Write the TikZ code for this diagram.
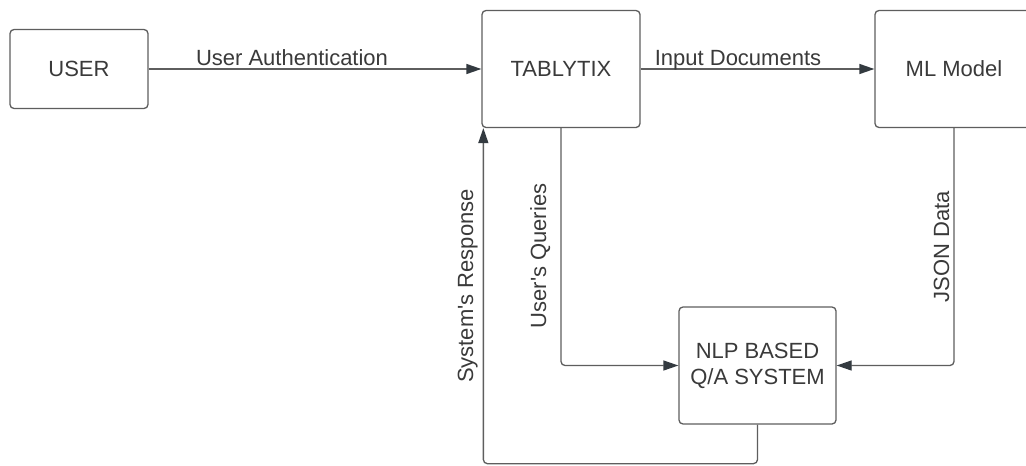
\documentclass[tikz,border=0pt]{standalone}
\usepackage{fontspec}
\setmainfont{Liberation Sans}
\usetikzlibrary{arrows.meta}
\definecolor{edge}{HTML}{5E5E5E}
\definecolor{ink}{HTML}{3A3A3A}
\definecolor{tip}{HTML}{333A40}
\begin{document}
\begin{tikzpicture}[x=1pt,y=-1pt,
  box/.style={draw=edge, line width=1.3pt, rounded corners=4pt, fill=white,
    text=ink, font=\fontsize{22}{26}\selectfont, align=center, inner sep=0pt},
  conn/.style={draw=edge, line width=1.3pt, rounded corners=4pt,
    -{Triangle[length=15pt,width=10pt,color=tip]}},
  lab/.style={text=ink, font=\fontsize{22}{26}\selectfont, inner sep=0pt}]
  \path[use as bounding box, clip] (0,0) rectangle (1026,466);
  \fill[white] (0,0) rectangle (1026,466);

  % blocks
  \node[box, minimum width=138pt, minimum height=79pt]  (user) at (79,69)    {USER};
  \node[box, minimum width=158pt, minimum height=117pt] (tab)  at (561,69)   {TABLYTIX};
  \node[box, minimum width=158pt, minimum height=117pt] (ml)   at (954,69)   {ML Model};
  \node[box, minimum width=157pt, minimum height=117pt] (nlp)  at (757.5,365.5) {NLP BASED\\Q/A SYSTEM};

  % connectors
  \draw[conn] (user.east) -- (tab.west);
  \draw[conn] (tab.east) -- (ml.west);
  \draw[conn] (tab.south) |- (nlp.west);
  \draw[conn] (ml.south) |- (nlp.east);
  \draw[conn] (nlp.south) -- ++(0,39) -| ([xshift=2pt]tab.south west);

  % connector labels
  \node[lab, anchor=base] (authlab) at (292,65) {User Authentication};
  \node[lab, anchor=base] (doclab)  at (738,65) {Input Documents};
  \node[lab, anchor=base, rotate=90] (qlab)   at (546,256) {User\textquotesingle s Queries};
  \node[lab, anchor=base, rotate=90] (rlab)   at (473,286) {System\textquotesingle s Response};
  \node[lab, anchor=base, rotate=90] (jlab)   at (949,247) {JSON Data};
\end{tikzpicture}
\end{document}
